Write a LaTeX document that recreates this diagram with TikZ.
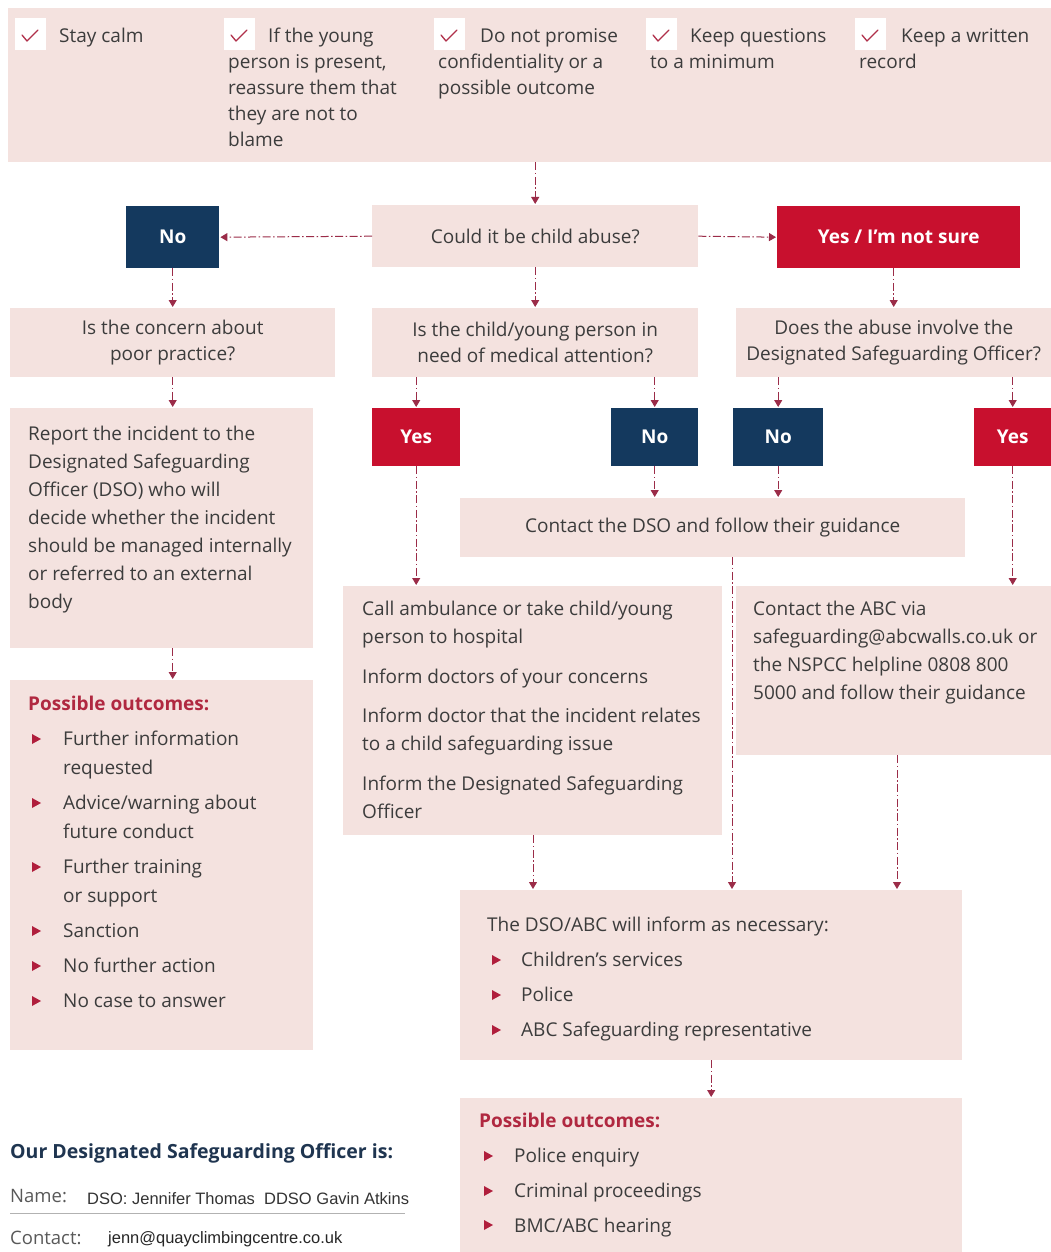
\documentclass[tikz,border=0pt]{standalone}
\usepackage{fontspec}
\setmainfont{Open Sans}
\newfontfamily\arialf{Liberation Sans}
\usetikzlibrary{arrows.meta,calc}
\definecolor{pinkbg}{HTML}{F4E2DF}
\definecolor{navyc}{HTML}{14395E}
\definecolor{redc}{HTML}{C8102E}
\definecolor{arrc}{HTML}{9B2C48}
\definecolor{txt}{HTML}{3C3C3C}
\definecolor{headred}{HTML}{B02840}
\definecolor{headnavy}{HTML}{1F3550}
\definecolor{chk}{HTML}{B0304A}
\definecolor{bul}{HTML}{B01E3C}
\newcommand\tri[2]{\fill[bul] (#1,#2-11) -- (#1,#2-1) -- (#1+9,#2-6) -- cycle;}
\newcommand\fl{\rule{0pt}{16pt}}
\begin{document}
\begin{tikzpicture}[x=1pt,y=-1pt,
  pbox/.style={fill=pinkbg, draw=none, inner sep=0pt, anchor=north west, text=txt, align=center, font=\fontsize{19}{26}\selectfont},
  navybox/.style={fill=navyc, draw=none, text=white, inner sep=0pt, anchor=north west, font=\fontsize{19}{22}\selectfont\bfseries},
  redbox/.style={fill=redc, draw=none, text=white, inner sep=0pt, anchor=north west, font=\fontsize{19}{22}\selectfont\bfseries},
  chkbox/.style={fill=white, draw=none, inner sep=0pt, anchor=north west, minimum width=31, minimum height=32},
  chkmark/.style={draw=chk, line width=1.3pt, line cap=round, line join=round},
  body/.style={text=txt, font=\fontsize{19}{28}\selectfont, inner sep=0pt, align=left, anchor=north west},
  bantext/.style={text=txt, font=\fontsize{19}{26}\selectfont, inner sep=0pt, align=left, anchor=north west},
  listtext/.style={text=txt, font=\fontsize{19}{35}\selectfont, inner sep=0pt, align=left, anchor=north west},
  headr/.style={text=headred, font=\fontsize{19}{24}\selectfont\bfseries, inner sep=0pt, anchor=base west},
  arr/.style={draw=arrc, line width=1pt, dash pattern=on 8pt off 2.5pt on 1.5pt off 2.5pt, -{Triangle[width=8pt,length=7pt]}, shorten >=1pt}
]
\fill[white] (0,0) rectangle (1051,1252);
\useasboundingbox (0,0) rectangle (1051,1252);

% ---------- top banner ----------
\node[pbox, minimum width=1043, minimum height=154] (banner) at (8,8) {};
\node[chkbox] (k1) at (15,18) {};
\node[chkbox] (k2) at (224,18) {};
\node[chkbox] (k3) at (434,18) {};
\node[chkbox] (k4) at (646,18) {};
\node[chkbox] (k5) at (855,18) {};
\foreach \k in {k1,k2,k3,k4,k5}{
  \draw[chkmark] ($(\k.north west)+(7,17)$) -- ++(5,6) -- ++(11,-11);
}
\node[bantext] (t1) at (59,42-16) {\fl Stay calm};
\node[bantext] (t2) at (228,42-16) {\fl\hspace*{40pt}If the young\\person is present,\\reassure them that\\they are not to\\blame};
\node[bantext] (t3) at (438,42-16) {\fl\hspace*{42pt}Do not promise\\confidentiality or a\\possible outcome};
\node[bantext] (t4) at (650,42-16) {\fl\hspace*{40pt}Keep questions\\to a minimum};
\node[bantext] (t5) at (859,42-16) {\fl\hspace*{42pt}Keep a written\\record};

% ---------- decision row ----------
\node[pbox, minimum width=326, minimum height=62] (could) at (372,205) {Could it be child abuse?};
\node[navybox, minimum width=93, minimum height=62] (no1) at (126,206) {No};
\node[redbox, minimum width=243, minimum height=62] (yes1) at (777,206) {Yes / I'm not sure};

% ---------- question row ----------
\node[pbox, minimum width=325, minimum height=69] (q1) at (10,308) {Is the concern about\\poor practice?};
\node[pbox, minimum width=326, minimum height=69] (q2) at (372,308) {Is the child/young person in\\need of medical attention?};
\node[pbox, minimum width=315, minimum height=69] (q3) at (736,308) {Does the abuse involve the\\Designated Safeguarding Officer?};

% ---------- answer row ----------
\node[pbox, minimum width=303, minimum height=240] (report) at (10,408) {};
\node[body] (reportt) at (28,440-16) {\fl Report the incident to the\\Designated Safeguarding\\Officer (DSO) who will\\decide whether the incident\\should be managed internally\\or referred to an external\\body};
\node[redbox, minimum width=88, minimum height=58] (yes2) at (372,408) {Yes};
\node[navybox, minimum width=87, minimum height=58] (no2) at (611,408) {No};
\node[navybox, minimum width=90, minimum height=58] (no3) at (733,408) {No};
\node[redbox, minimum width=77, minimum height=58] (yes3) at (974,408) {Yes};

\node[pbox, minimum width=505, minimum height=59] (cdso) at (460,498) {Contact the DSO and follow their guidance};

% ---------- action boxes ----------
\node[pbox, minimum width=379, minimum height=249] (ambul) at (343,586) {};
\node[body] (ambult) at (362,615-16) {\fl Call ambulance or take child/young\\person to hospital\\[12pt]Inform doctors of your concerns\\[11pt]Inform doctor that the incident relates\\to a child safeguarding issue\\[12pt]Inform the Designated Safeguarding\\Officer};
\node[pbox, minimum width=315, minimum height=169] (abc) at (736,586) {};
\node[body] (abct) at (753,615-16) {\fl Contact the ABC via\\safeguarding@abcwalls.co.uk or\\the NSPCC helpline 0808 800\\5000 and follow their guidance};

% ---------- left outcomes ----------
\node[pbox, minimum width=303, minimum height=370] (outL) at (10,680) {};
\node[headr] (outLh) at (28,710) {Possible outcomes:};
\node[body, font=\fontsize{19}{29}\selectfont] (outLt) at (63,745-16) {\fl Further information\\requested\\[6pt]Advice/warning about\\future conduct\\[6pt]Further training\\or support\\[6pt]Sanction\\[6pt]No further action\\[6pt]No case to answer};
\foreach \b in {745,809,873,937,972,1007}{\tri{32}{\b}}

% ---------- inform box ----------
\node[pbox, minimum width=502, minimum height=170] (inform) at (460,890) {};
\node[body] (informh) at (487,931-16) {\fl The DSO/ABC will inform as necessary:};
\node[listtext] (informt) at (521,966-16) {\fl Children's services\\Police\\ABC Safeguarding representative};
\foreach \b in {966,1001,1036}{\tri{492}{\b}}

% ---------- right outcomes ----------
\node[pbox, minimum width=502, minimum height=160] (outR) at (460,1098) {};
\node[headr] (outRh) at (479,1127) {Possible outcomes:};
\node[listtext] (outRt) at (514,1162-16) {\fl Police enquiry\\Criminal proceedings\\BMC/ABC hearing};
\foreach \b in {1162,1197,1231}{\tri{484}{\b}}

% ---------- DSO details ----------
\node[inner sep=0pt, anchor=base west, text=headnavy, font=\fontsize{19.5}{24}\selectfont\bfseries] (dsoh) at (10,1158) {Our Designated Safeguarding Officer is:};
\node[inner sep=0pt, anchor=base west, text=txt!85, font=\fontsize{18.5}{24}\selectfont] (namel) at (10,1202) {Name:};
\node[inner sep=0pt, anchor=base west, text=black!80, font=\arialf\fontsize{16.5}{20}\selectfont] (namev) at (87,1204) {DSO: Jennifer Thomas\ \ DDSO Gavin Atkins};
\node[inner sep=0pt, anchor=base west, text=txt!85, font=\fontsize{18.5}{24}\selectfont] (contl) at (10,1244) {Contact:};
\node[inner sep=0pt, anchor=base west, text=black!85, font=\arialf\fontsize{16.5}{20}\selectfont] (contv) at (108,1243) {jenn@quayclimbingcentre.co.uk};
\coordinate (ruleA) at (10,1213);
\coordinate (ruleB) at (405,1213);
\draw[black!30, line width=0.8pt] (ruleA) -- (ruleB);

% ---------- connectors ----------
\draw[arr] (could.north |- banner.south) -- (could.north);
\draw[arr] (could.west) -- (no1.east);
\draw[arr] (could.east) -- (yes1.west);
\draw[arr] (no1.south) -- (no1.south |- q1.north);
\draw[arr] (could.south) -- (q2.north);
\draw[arr] (yes1.south -| q3.north) -- (q3.north);
\draw[arr] (q1.south) -- (q1.south |- report.north);
\draw[arr] (yes2.north |- q2.south) -- (yes2.north);
\draw[arr] (no2.north |- q2.south) -- (no2.north);
\draw[arr] (no3.north |- q3.south) -- (no3.north);
\draw[arr] (yes3.north |- q3.south) -- (yes3.north);
\draw[arr] (no2.south) -- (no2.south |- cdso.north);
\draw[arr] (no3.south) -- (no3.south |- cdso.north);
\draw[arr] (yes2.south) -- (yes2.south |- ambul.north);
\draw[arr] (yes3.south) -- (yes3.south |- abc.north);
\draw[arr] (report.south -| q1.south) -- (outL.north -| q1.south);
\coordinate (xa) at (533,0);
\coordinate (xb) at (732,0);
\coordinate (xc) at (897,0);
\draw[arr] (ambul.south -| xa) -- (inform.north -| xa);
\draw[arr] (cdso.south -| xb) -- (inform.north -| xb);
\draw[arr] (abc.south -| xc) -- (inform.north -| xc);
\draw[arr] (inform.south) -- (outR.north);
\end{tikzpicture}
\end{document}
